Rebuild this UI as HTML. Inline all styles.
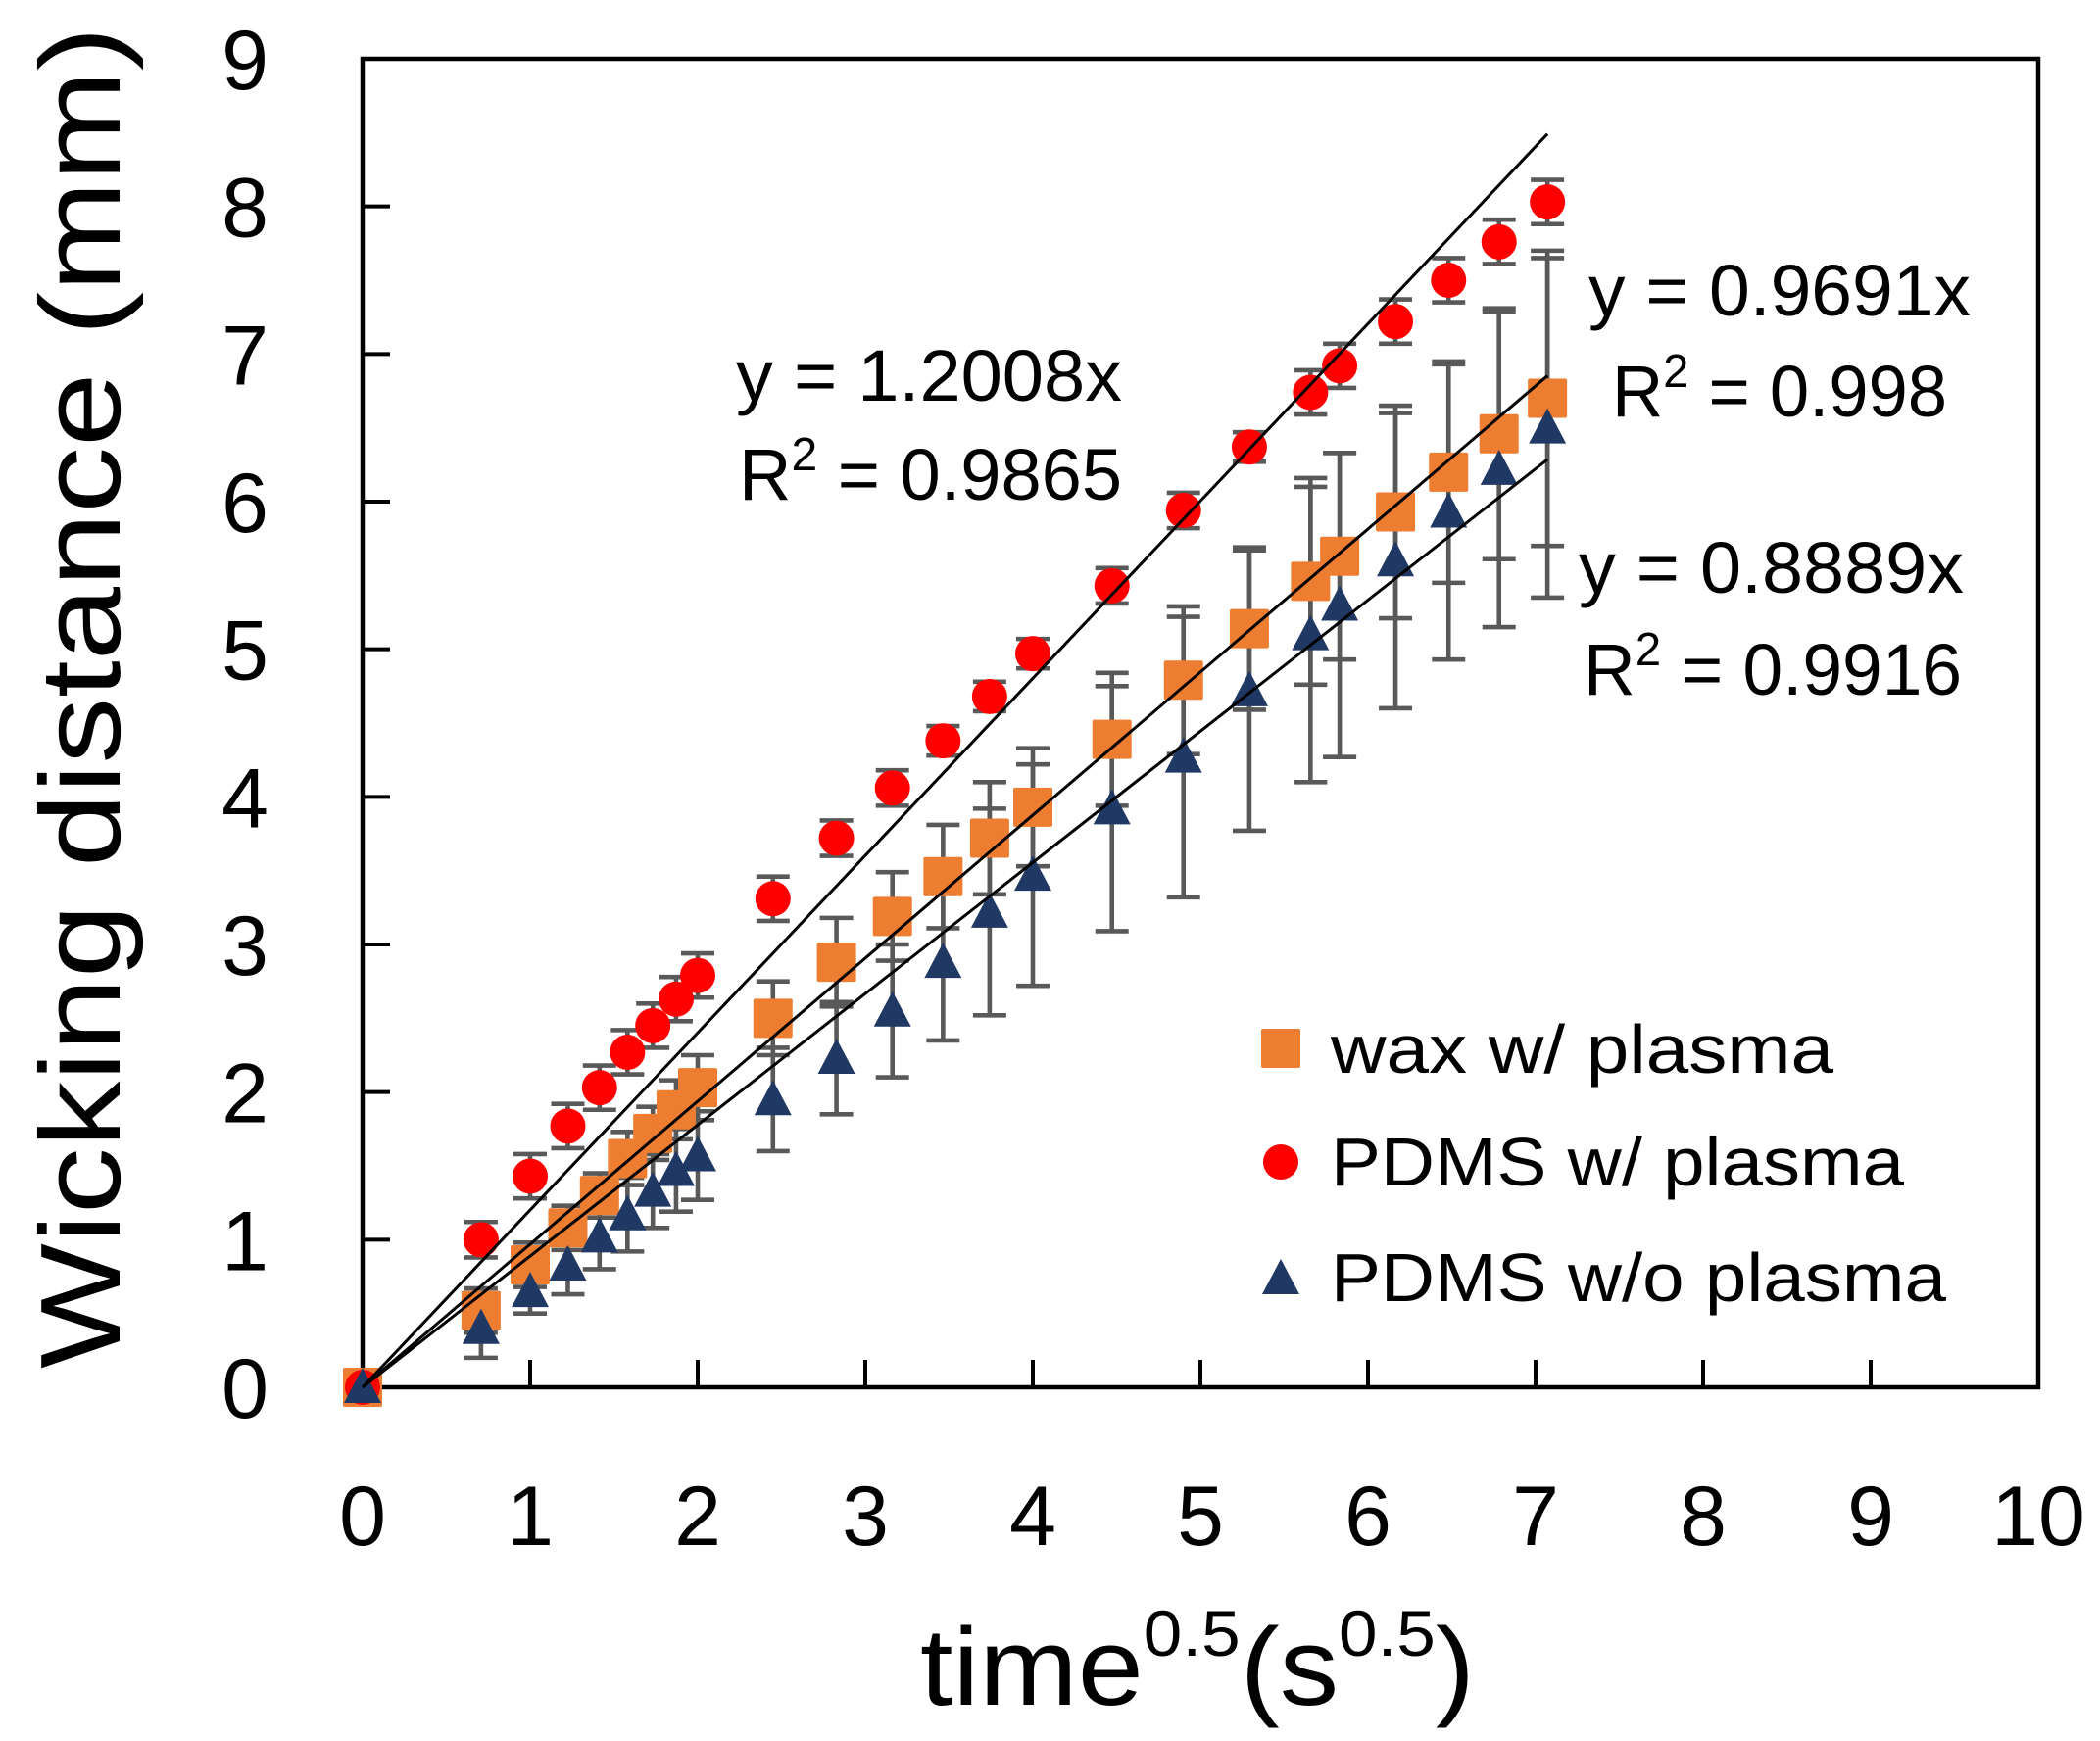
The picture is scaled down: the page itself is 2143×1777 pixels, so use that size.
<!DOCTYPE html>
<html><head><meta charset="utf-8">
<style>html,body{margin:0;padding:0;background:#fff}svg{display:block}text{font-family:"Liberation Sans",sans-serif;fill:#000}</style>
</head><body>
<svg id="chart" width="2143" height="1777" viewBox="0 0 2143 1777" xmlns="http://www.w3.org/2000/svg">
<g id="grid"></g>
</svg>
<script>
const xVals=[0,0.707,1,1.225,1.414,1.581,1.732,1.871,2,2.449,2.828,3.162,3.464,3.742,4,4.472,4.899,5.292,5.657,5.831,6.164,6.481,6.782,7.071];
const waxY=[0,0.52,0.83,1.08,1.3,1.55,1.72,1.88,2.03,2.5,2.88,3.19,3.46,3.72,3.93,4.39,4.79,5.14,5.46,5.63,5.93,6.2,6.46,6.7];
const waxErr=[0,0.15,0.15,0.15,0.15,0.18,0.18,0.2,0.22,0.25,0.3,0.3,0.35,0.38,0.4,0.45,0.5,0.55,0.7,0.7,0.72,0.75,0.85,1.0];
const pdmsY=[0,1.0,1.43,1.77,2.03,2.27,2.45,2.63,2.79,3.31,3.72,4.06,4.38,4.68,4.97,5.43,5.94,6.37,6.74,6.92,7.22,7.5,7.76,8.03];
const pdmsErr=[0,0.12,0.15,0.15,0.15,0.15,0.15,0.15,0.15,0.15,0.12,0.12,0.1,0.1,0.1,0.12,0.12,0.1,0.15,0.15,0.15,0.15,0.15,0.15];
const noPlY=[0,0.4,0.65,0.83,1.02,1.17,1.33,1.47,1.57,1.95,2.23,2.55,2.88,3.22,3.47,3.92,4.27,4.72,5.1,5.3,5.6,5.93,6.22,6.5];
const noPlErr=[0,0.2,0.15,0.2,0.22,0.25,0.25,0.28,0.3,0.35,0.38,0.45,0.53,0.7,0.75,0.83,0.95,0.95,1.0,1.03,1.0,1.0,1.07,1.15];
const slopes=[0.9691,1.2008,0.8889];
const fitEnd=7.071;
const xTicks=[0,1,2,3,4,5,6,7,8,9,10];
const yTicks=[0,1,2,3,4,5,6,7,8,9];

const L=370,R=2080,T=60,B=1416;
const sx=v=>L+(R-L)*v/10;
const sy=v=>B-(B-T)*v/9;
const svg=document.getElementById('chart');
const NS='http://www.w3.org/2000/svg';
function mk(tag,attrs,parent){const e=document.createElementNS(NS,tag);for(const k in attrs)e.setAttribute(k,attrs[k]);(parent||svg).appendChild(e);return e;}

// axes box
const box=mk('rect',{x:L,y:T,width:R-L,height:B-T,fill:'none',stroke:'#000','stroke-width':4.5});


xTicks.forEach(t=>{
  const l=mk('line',{x1:sx(t),x2:sx(t),y1:B,y2:B-28,stroke:'#000','stroke-width':4});
  
  
  const tx=mk('text',{x:sx(t),y:1577,'font-size':86,'text-anchor':'middle'});
  tx.textContent=t;
  
  
});
yTicks.forEach(t=>{
  const l=mk('line',{x1:L,x2:L+28,y1:sy(t),y2:sy(t),stroke:'#000','stroke-width':4});
  
  
  const tx=mk('text',{x:274,y:sy(t)+31,'font-size':86,'text-anchor':'end'});
  tx.textContent=t;
  
  
});

function errBars(ys,errs,name){
  const g=mk('g',{stroke:'#595959','stroke-width':4.6});
  
  
  xVals.forEach((x,i)=>{
    if(!errs[i])return;
    const cx=sx(x),y1=sy(ys[i]+errs[i]),y2=sy(ys[i]-errs[i]);
    mk('line',{x1:cx,x2:cx,y1:y1,y2:y2},g);
    mk('line',{x1:cx-17,x2:cx+17,y1:y1,y2:y1},g);
    mk('line',{x1:cx-17,x2:cx+17,y1:y2,y2:y2},g);
  });
}
errBars(waxY,waxErr,'wax-error-bars');
errBars(pdmsY,pdmsErr,'pdms-plasma-error-bars');
errBars(noPlY,noPlErr,'pdms-no-plasma-error-bars');

function square(cx,cy,parent){return mk('rect',{x:cx-20,y:cy-20,width:40,height:40,rx:2,fill:'#ED7D31'},parent);}
function circle(cx,cy,parent){return mk('circle',{cx:cx,cy:cy,r:18,fill:'#FF0000'},parent);}
function tri(cx,cy,parent){return mk('polygon',{points:`${cx},${cy-20} ${cx+19},${cy+16} ${cx-19},${cy+16}`,fill:'#203864'},parent);}

const gw=mk('g',{});
xVals.forEach((x,i)=>{const m=square(sx(x),sy(waxY[i]),gw);});
const gp=mk('g',{});
xVals.forEach((x,i)=>{const m=circle(sx(x),sy(pdmsY[i]),gp);});
const gn=mk('g',{});
xVals.forEach((x,i)=>{const m=tri(sx(x),sy(noPlY[i]),gn);});

['wax-trendline','pdms-plasma-trendline','pdms-no-plasma-trendline'].forEach((n,i)=>{
  const l=mk('line',{x1:sx(0),y1:sy(0),x2:sx(fitEnd),y2:sy(slopes[i]*fitEnd),stroke:'#000','stroke-width':3});
  
  
});

function label(txt,x,y,len,name,size){
  const t=mk('text',{x:x,y:y,'font-size':size||74,textLength:len,lengthAdjust:'spacingAndGlyphs'});
  t.innerHTML=txt;
  
  
  return t;
}
label('y = 1.2008x',751,409,394,'pdms-plasma-equation');
label('R<tspan font-size="48" dy="-30">2</tspan><tspan dy="30"> = 0.9865</tspan>',754,510,391,'pdms-plasma-r2');
label('y = 0.9691x',1621,322,390,'wax-equation');
label('R<tspan font-size="48" dy="-30">2</tspan><tspan dy="30"> = 0.998</tspan>',1645,425,342,'wax-r2');
label('y = 0.8889x',1611,605,393,'pdms-no-plasma-equation');
label('R<tspan font-size="48" dy="-30">2</tspan><tspan dy="30"> = 0.9916</tspan>',1616,709,386,'pdms-no-plasma-r2');

// legend
const lg=mk('g',{});
const e1=square(1307,1070,lg);
const e2=circle(1307,1186,lg);
const e3=tri(1307,1305,lg);
label('wax w/ plasma',1358,1095,513,'legend-wax-label',70);
label('PDMS w/ plasma',1358,1210,585,'legend-pdms-plasma-label',70);
label('PDMS w/o plasma',1358,1328,628,'legend-pdms-no-plasma-label',70);

// axis titles
const xt=mk('text',{x:939,y:1740,'font-size':112,textLength:566,lengthAdjust:'spacingAndGlyphs'});
xt.innerHTML='time<tspan font-size="66" dy="-50">0.5</tspan><tspan dy="50">(s</tspan><tspan font-size="66" dy="-50">0.5</tspan><tspan dy="50">)</tspan>';


const yt=mk('text',{x:0,y:0,'font-size':116,'text-anchor':'middle',textLength:1370,lengthAdjust:'spacingAndGlyphs',transform:'translate(122,712) rotate(-90)'});
yt.textContent='Wicking distance (mm)';


</script>
</body></html>
